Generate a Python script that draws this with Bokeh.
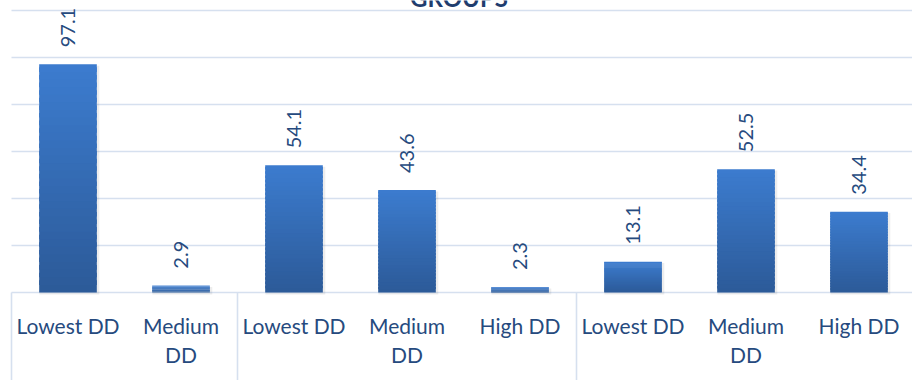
import math
import numpy as np
from bokeh.plotting import figure
from bokeh.models import Range1d
from bokeh.core.properties import value
from bokeh.embed import file_html
from bokeh.resources import INLINE

# ---- data ----
title_text = "GROUPS"
group_sizes = [2, 3, 3]
categories = ["Lowest DD", "Medium DD",
              "Lowest DD", "Medium DD", "High DD",
              "Lowest DD", "Medium DD", "High DD"]
values = [97.1, 2.9, 54.1, 43.6, 2.3, 13.1, 52.5, 34.4]
value_labels = ["97.1", "2.9", "54.1", "43.6", "2.3", "13.1", "52.5", "34.4"]
y_ticks = [0, 20, 40, 60, 80, 100, 120]

# ---- style ----
FONT = "Lato"
TXT = "#264a7e"
GRID = "#d6e0ef"
TOP_COL = np.array([0x3c, 0x7c, 0xcf])
BOT_COL = np.array([0x2c, 0x5a, 0x98])

n = len(categories)
p = figure(width=912, height=380, output_backend="svg", toolbar_location=None,
           x_range=Range1d(-11 / 113, 901 / 113), y_range=Range1d(-37.45, 124.26),
           x_axis_location=None, y_axis_location=None, min_border=0)
p.outline_line_color = None
p.grid.visible = False
p.background_fill_color = "white"
p.border_fill_color = "white"

# gridlines
p.segment(x0=0, x1=n, y0=y_ticks, y1=y_ticks, line_color=GRID, line_width=1.6)

# group separators
bounds = np.concatenate([[0], np.cumsum(group_sizes)])
p.segment(x0=bounds, x1=bounds, y0=0, y1=-40, line_color=GRID, line_width=1.6)

xs = np.arange(n) + 0.5
vals = np.array(values)
bw = 0.51

# soft shadow
p.vbar(x=xs + 0.012, top=vals - 0.6, bottom=-0.9, width=bw + 0.02,
       fill_color="#000000", fill_alpha=0.07, line_color=None)

# gradient bars (overlapping slices, drawn bottom to top)
N = 30
for k in range(N):
    f0 = k / N
    f1 = min((k + 1.6) / N, 1.0)
    t = (k + 0.5) / N
    c = BOT_COL + (TOP_COL - BOT_COL) * t
    col = "#%02x%02x%02x" % tuple(int(round(v)) for v in c)
    p.vbar(x=xs, bottom=vals * f0, top=vals * f1, width=bw,
           fill_color=col, line_color=None)

# value labels
p.text(x=xs, y=vals, text=value_labels, angle=math.pi / 2,
       text_align="left", text_baseline="middle", y_offset=-17,
       text_font=value(FONT), text_font_size="20px", text_color=TXT)

# category labels (wrapped)
line1, line2 = [], []
for c in categories:
    if c.startswith("Medium"):
        a, b = c.split(" ", 1)
    else:
        a, b = c, ""
    line1.append(a)
    line2.append(b)
p.text(x=xs, y=0, text=line1, text_align="center", text_baseline="alphabetic",
       y_offset=33, text_font=value(FONT), text_font_size="21px", text_color=TXT)
p.text(x=xs, y=0, text=line2, text_align="center", text_baseline="alphabetic",
       y_offset=62, text_font=value(FONT), text_font_size="21px", text_color=TXT)

# title (cut off at top as in the reference)
p.text(x=[3.96], y=[y_ticks[-1]], text=[title_text], text_align="center",
       text_baseline="alphabetic", y_offset=-13, text_font=value(FONT),
       text_font_style="bold", text_font_size="24px", text_color="#1f3d6e")

open("out.html", "w").write(file_html(p, INLINE))
